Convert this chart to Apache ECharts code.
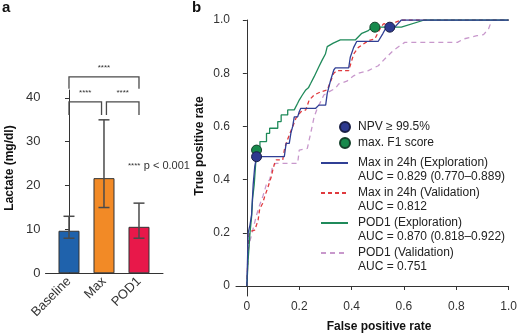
<!DOCTYPE html>
<html><head><meta charset="utf-8">
<script src="https://cdn.jsdelivr.net/npm/echarts@6/dist/echarts.min.js"></script>
<style>html,body{margin:0;padding:0;background:#fff}#c{width:520px;height:334px}</style>
</head><body><div id="c"></div>
<script>
// ---------- Panel a data ----------
const categories = ['Baseline', 'Max', 'POD1'];
const lactateMean = [9.7, 21.7, 10.6];
const lactateLow = [8, 15, 8];
const lactateHigh = [13, 35, 16];
const barColors = ['#1f62ac', '#f28a26', '#e8184a'];
const yTicksA = [0, 10, 20, 30, 40];
// significance brackets
const bracketX1 = [0, 0, 1.07];
const bracketX2 = [2, 0.93, 2];
const bracketTop = [44.8, 39.1, 39.1];
const bracketLeg = [42.1, 36.1, 36.1];
const bracketLabel = ['****', '****', '****'];

// ---------- Panel b data ----------
const ticksB = [0, 0.2, 0.4, 0.6, 0.8, 1.0];
const maxExpFpr = [0,0.005,0.012,0.018,0.024,0.03,0.037,0.143,0.15,0.162,0.168,0.175,0.181,0.194,0.2,0.206,0.263,0.275,0.301,0.307,0.32,0.332,0.338,0.389,0.395,0.408,0.42,0.502,0.52,0.533,0.565,0.59,1];
const maxExpTpr = [0,0.2,0.23,0.267,0.38,0.448,0.486,0.486,0.536,0.536,0.574,0.6,0.636,0.636,0.655,0.668,0.668,0.68,0.68,0.724,0.774,0.812,0.82,0.82,0.86,0.897,0.92,0.92,0.95,0.973,0.973,1,1];
const maxValFpr = [0,0.005,0.008,0.011,0.018,0.03,0.037,0.043,0.049,0.06,0.068,0.08,0.093,0.1,0.106,0.112,0.137,0.143,0.15,0.162,0.175,0.187,0.194,0.206,0.225,0.238,0.257,0.282,0.307,0.32,0.332,0.345,0.389,0.408,0.426,0.464,0.489,0.508,0.521,0.565,0.59,1];
const maxValTpr = [0,0.142,0.185,0.204,0.21,0.21,0.23,0.248,0.29,0.31,0.336,0.37,0.41,0.44,0.461,0.474,0.474,0.511,0.536,0.568,0.599,0.63,0.636,0.655,0.662,0.699,0.718,0.73,0.737,0.77,0.8,0.81,0.81,0.872,0.897,0.922,0.929,0.966,0.985,0.99,1,1];
const podExpFpr = [0,0.005,0.012,0.018,0.022,0.028,0.033,0.037,0.05,0.05,0.075,0.075,0.087,0.087,0.118,0.118,0.131,0.131,0.156,0.156,0.181,0.187,0.194,0.2,0.212,0.225,0.235,0.244,0.257,0.275,0.288,0.3,0.307,0.33,0.357,0.414,0.439,0.464,0.477,0.59,0.678,1];
const podExpTpr = [0,0.1,0.2,0.26,0.33,0.38,0.45,0.511,0.511,0.543,0.543,0.574,0.574,0.593,0.593,0.618,0.618,0.643,0.643,0.662,0.662,0.668,0.687,0.699,0.718,0.737,0.745,0.762,0.787,0.824,0.85,0.872,0.9,0.913,0.925,0.925,0.95,0.96,0.973,0.973,1,1];
const podValFpr = [0,0.005,0.012,0.018,0.037,0.049,0.062,0.074,0.087,0.093,0.099,0.112,0.194,0.2,0.231,0.238,0.245,0.257,0.269,0.282,0.294,0.313,0.338,0.351,0.382,0.408,0.426,0.464,0.502,0.533,0.559,0.584,0.603,0.804,0.829,0.879,0.904,0.923,0.936,1];
const podValTpr = [0,0.13,0.17,0.192,0.267,0.305,0.34,0.38,0.4,0.424,0.455,0.461,0.461,0.511,0.517,0.549,0.58,0.636,0.668,0.693,0.718,0.73,0.743,0.76,0.77,0.79,0.8,0.81,0.828,0.86,0.885,0.903,0.916,0.916,0.929,0.941,0.945,0.966,1,1];
const npvFpr = [0.037, 0.546];
const npvTpr = [0.486, 0.973];
const f1Fpr = [0.037, 0.489];
const f1Tpr = [0.511, 0.973];
const seriesNames = ['Max in 24h (Exploration)', 'Max in 24h (Validation)', 'POD1 (Exploration)', 'POD1 (Validation)'];
const aucTexts = ['AUC = 0.829 (0.770–0.889)', 'AUC = 0.812', 'AUC = 0.870 (0.818–0.922)', 'AUC = 0.751'];
const lineColors = ['#303f95', '#e03a3e', '#1f8a5a', '#c898cc'];

const zip = (a, b) => a.map((v, i) => [v, b[i]]);
const FONT = '"Liberation Sans", Arial, sans-serif';
const TXT = '#222';

const chart = echarts.init(document.getElementById('c'), null, {renderer: 'canvas'});

const axisLineStyle = {lineStyle: {color: '#333', width: 1}};

const option = {
  animation: false,
  textStyle: {fontFamily: FONT},
  grid: [
    {left: 45.5, top: 90, width: 117.5, height: 183.3},
    {left: 236, top: 20, width: 276, height: 276}
  ],
  xAxis: [
    {
      gridIndex: 0, type: 'value', min: -0.671, max: 2.686,
      splitLine: {show: false}, axisLine: axisLineStyle,
      axisTick: {show: false},
      axisLabel: {customValues: [0, 1, 2], formatter: v => categories[Math.round(v)], rotate: 45,
        fontSize: 13, color: '#333', fontFamily: FONT, margin: 6}
    },
    {
      gridIndex: 1, type: 'value', min: -0.0415, max: 1,
      splitLine: {show: false}, axisLine: axisLineStyle,
      axisTick: {customValues: ticksB, length: 4, lineStyle: {color: '#333'}},
      axisLabel: {customValues: ticksB, formatter: v => v === 0 ? '0' : v.toFixed(1),
        fontSize: 12, color: '#333', fontFamily: FONT, margin: 5}
    }
  ],
  yAxis: [
    {
      gridIndex: 0, type: 'value', min: 0, max: 41.8,
      splitLine: {show: false}, axisLine: {show: true, lineStyle: {color: '#333', width: 1}},
      axisTick: {show: true, customValues: yTicksA, length: 4, lineStyle: {color: '#333'}},
      axisLabel: {customValues: yTicksA, fontSize: 13, color: '#333', fontFamily: FONT, margin: 5}
    },
    {
      gridIndex: 1, type: 'value', min: -0.0376, max: 1,
      splitLine: {show: false}, axisLine: {show: true, lineStyle: {color: '#333', width: 1}},
      axisTick: {show: true, customValues: ticksB, length: 4, lineStyle: {color: '#333'}},
      axisLabel: {customValues: ticksB, formatter: v => v === 0 ? '0' : v.toFixed(1),
        fontSize: 12, color: '#333', fontFamily: FONT, margin: 6}
    }
  ],
  legend: [
    {
      data: ['NPV ≥ 99.5%', 'max. F1 score'],
      orient: 'vertical', left: 339, top: 121, padding: 0, itemWidth: 10, itemHeight: 10, itemGap: 4,
      icon: 'circle',
      textStyle: {fontSize: 12, color: TXT, fontFamily: FONT, lineHeight: 12, padding: [0, 0, 0, 3]}
    },
    {
      data: seriesNames,
      orient: 'vertical', left: 320, top: 143, padding: 0, itemWidth: 27, itemHeight: 10, itemGap: -10,
      itemStyle: {color: 'transparent', borderWidth: 0, borderColor: 'transparent'},
      formatter: name => '{s| }\n{t|' + name + '}\n{t|' + aucTexts[seriesNames.indexOf(name)] + '}',
      textStyle: {color: TXT, fontFamily: FONT, padding: [0, 0, 0, 5],
        rich: {s: {fontSize: 12, lineHeight: 14}, t: {fontSize: 12, lineHeight: 14, color: TXT, fontFamily: FONT}}}
    }
  ],
  graphic: [
    {type: 'text', left: 2, top: 0, style: {text: 'a', font: 'bold 15px ' + FONT, fill: '#111'}},
    {type: 'text', left: 192, top: 0, style: {text: 'b', font: 'bold 15px ' + FONT, fill: '#111'}},
    {type: 'text', x: 10, y: 168, rotation: Math.PI / 2,
      style: {text: 'Lactate (mg/dl)', font: 'bold 12px ' + FONT, fill: '#111', align: 'center', verticalAlign: 'middle'}},
    {type: 'text', x: 200, y: 146, rotation: Math.PI / 2,
      style: {text: 'True positive rate', font: 'bold 12px ' + FONT, fill: '#111', align: 'center', verticalAlign: 'middle'}},
    {type: 'text', x: 379, y: 327,
      style: {text: 'False positive rate', font: 'bold 12px ' + FONT, fill: '#111', align: 'center', verticalAlign: 'middle'}},
    {type: 'text', x: 128, y: 166,
      style: {text: '{s|****} {p|p < 0.001}', verticalAlign: 'middle',
        rich: {s: {fontSize: 8, fill: '#333', fontFamily: FONT}, p: {fontSize: 11, fill: '#333', fontFamily: FONT}}}}
  ],
  series: [
    {
      type: 'bar', xAxisIndex: 0, yAxisIndex: 0, barWidth: 21,
      data: lactateMean.map((v, i) => ({value: [i, v], itemStyle: {color: barColors[i]}})),
      itemStyle: {borderColor: '#333', borderWidth: 1}
    },
    {
      type: 'custom', xAxisIndex: 0, yAxisIndex: 0, z: 5,
      data: lactateMean.map((v, i) => [i, lactateLow[i], lactateHigh[i]]),
      encode: {x: 0, y: [1, 2]},
      renderItem: (params, api) => {
        const x = api.value(0);
        const pLo = api.coord([x, api.value(1)]);
        const pHi = api.coord([x, api.value(2)]);
        const w = 5.5;
        const st = {stroke: '#4a4a4a', lineWidth: 1.5};
        return {type: 'group', children: [
          {type: 'line', shape: {x1: pHi[0], y1: pHi[1], x2: pLo[0], y2: pLo[1]}, style: st},
          {type: 'line', shape: {x1: pHi[0] - w, y1: pHi[1], x2: pHi[0] + w, y2: pHi[1]}, style: st},
          {type: 'line', shape: {x1: pLo[0] - w, y1: pLo[1], x2: pLo[0] + w, y2: pLo[1]}, style: st}
        ]};
      }
    },
    {
      type: 'custom', xAxisIndex: 0, yAxisIndex: 0, z: 5, clip: false,
      data: bracketX1.map((v, i) => [v, bracketX2[i], bracketTop[i], bracketLeg[i]]),
      encode: {x: [0, 1], y: [2, 3]},
      renderItem: (params, api) => {
        const i = params.dataIndex;
        const a = api.coord([api.value(0), api.value(3)]);
        const b = api.coord([api.value(0), api.value(2)]);
        const c = api.coord([api.value(1), api.value(2)]);
        const d = api.coord([api.value(1), api.value(3)]);
        return {type: 'group', children: [
          {type: 'polyline', shape: {points: [a, b, c, d]}, style: {stroke: '#4a4a4a', lineWidth: 1.3, fill: null}},
          {type: 'text', x: (b[0] + c[0]) / 2, y: b[1] - 9,
            style: {text: bracketLabel[i], fontSize: 8, fill: '#333', align: 'center', verticalAlign: 'middle', fontFamily: FONT}}
        ]};
      }
    },
    {name: seriesNames[0], type: 'line', xAxisIndex: 1, yAxisIndex: 1, symbol: 'none', z: 4,
      data: zip(maxExpFpr, maxExpTpr), lineStyle: {color: lineColors[0], width: 1.3}, itemStyle: {color: lineColors[0]}},
    {name: seriesNames[1], type: 'line', xAxisIndex: 1, yAxisIndex: 1, symbol: 'none', z: 3,
      data: zip(maxValFpr, maxValTpr), lineStyle: {color: lineColors[1], width: 1.3, type: [4, 3]}, itemStyle: {color: lineColors[1]}},
    {name: seriesNames[2], type: 'line', xAxisIndex: 1, yAxisIndex: 1, symbol: 'none', z: 3,
      data: zip(podExpFpr, podExpTpr), lineStyle: {color: lineColors[2], width: 1.3}, itemStyle: {color: lineColors[2]}},
    {name: seriesNames[3], type: 'line', xAxisIndex: 1, yAxisIndex: 1, symbol: 'none', z: 2,
      data: zip(podValFpr, podValTpr), lineStyle: {color: lineColors[3], width: 1.3, type: [5, 4]}, itemStyle: {color: lineColors[3]}},
    {name: 'NPV ≥ 99.5%', type: 'scatter', xAxisIndex: 1, yAxisIndex: 1, symbolSize: 10, z: 10,
      data: zip(npvFpr, npvTpr), itemStyle: {color: '#2e3a8f', borderColor: '#1a1f45', borderWidth: 1, opacity: 1}},
    {name: 'max. F1 score', type: 'scatter', xAxisIndex: 1, yAxisIndex: 1, symbolSize: 10, z: 9,
      data: zip(f1Fpr, f1Tpr), itemStyle: {color: '#178a4c', borderColor: '#14402a', borderWidth: 1, opacity: 1}}
  ]
};
chart.setOption(option);
</script>
</body></html>
